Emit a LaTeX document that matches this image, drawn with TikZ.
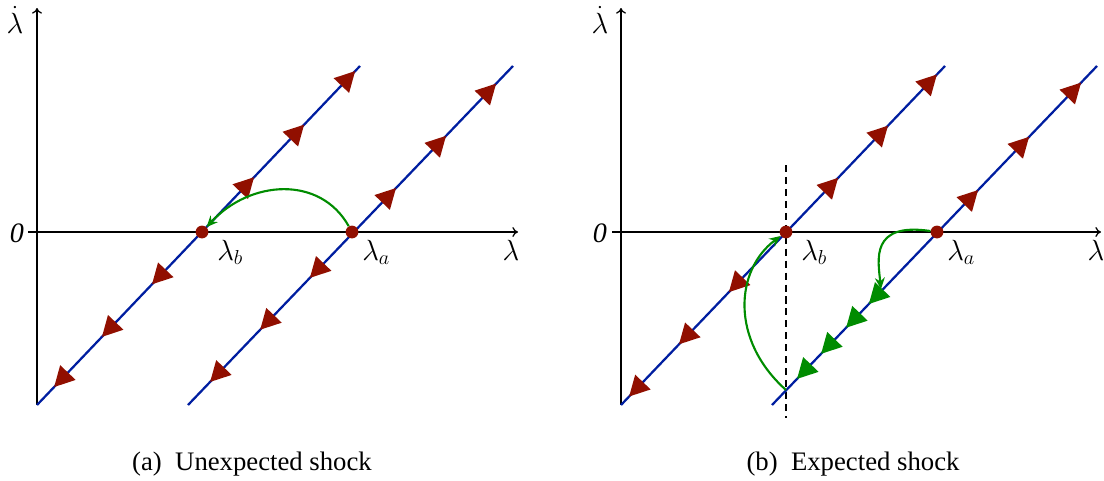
\documentclass[tikz,border=0pt]{standalone}
\usepackage{fontspec}
\setmainfont{Liberation Serif}
\usetikzlibrary{arrows.meta,decorations.markings}
\definecolor{flowblue}{RGB}{0,30,160}
\definecolor{dotred}{RGB}{145,15,0}
\definecolor{pathgreen}{RGB}{0,140,0}
\tikzset{
  axis/.style={line width=0.9pt, -{To[length=4pt,width=7pt]}},
  flow/.style={flowblue, line width=1.6pt},
  redtri/.tip={Triangle[length=0.5cm,width=0.52cm,color=dotred,fill=dotred]},
  greentri/.tip={Triangle[length=0.5cm,width=0.52cm,color=pathgreen,fill=pathgreen]},
  up/.style={postaction={decorate,decoration={markings,mark=at position #1 with {\arrow{redtri}}}}},
  down/.style={postaction={decorate,decoration={markings,mark=at position #1 with {\arrowreversed{redtri}}}}},
  gdown/.style={postaction={decorate,decoration={markings,mark=at position #1 with {\arrowreversed{greentri}}}}},
  eqdot/.style={circle, fill=dotred, inner sep=0pt, minimum size=0.32cm},
  jump/.style={pathgreen, line width=1.5pt, -{Stealth[length=8pt,width=7pt]}},
  guide/.style={black, line width=0.9pt, dash pattern=on 5pt off 3.5pt},
  lab/.style={font=\fontsize{20}{22}\selectfont, inner sep=0pt},
  captext/.style={font=\fontsize{19}{21}\selectfont, inner sep=0pt},
}
\begin{document}
\begin{tikzpicture}[x=0.025cm,y=-0.025cm]
\path[use as bounding box] (0,0) rectangle (1104,480);
% ---------- panel (a)
\coordinate (ay0) at (37,405);
\coordinate (ay1) at (37,8);
\coordinate (ax0) at (28,232);
\coordinate (ax1) at (518,232);
\draw[axis] (ay0) -- (ay1);
\draw[axis] (ax0) -- (ax1);
\node[lab, anchor=base] (ald) at (15,33) {$\dot\lambda$};
\node[lab, anchor=base] (azero) at (17,242) {\textit{0}};
\node[lab, anchor=base] (alam) at (511,260) {$\lambda$};
\coordinate (a1s) at (37,405);
\coordinate (a1e) at (360,66);
\coordinate (a2s) at (188,405);
\coordinate (a2e) at (513,66);
\draw[flow, down=0.053, down=0.201, down=0.356, up=0.672, up=0.827, up=0.985] (a1s) -- (a1e);
\draw[flow, down=0.068, down=0.222, down=0.375, up=0.64, up=0.794, up=0.948] (a2s) -- (a2e);
\node[eqdot] (alb) at (202,232) {};
\node[eqdot] (ala) at (352,232) {};
\node[lab, anchor=base west] (alblab) at (217,260) {$\lambda_b$};
\node[lab, anchor=base west] (alalab) at (362,260) {$\lambda_a$};
\draw[jump] (ala) .. controls (320,175) and (250,180) .. (alb);
\node[captext] (capa) at (252,464) {(a)\ \ Unexpected shock};
% ---------- panel (b)
\coordinate (by0) at (621,405);
\coordinate (by1) at (621,8);
\coordinate (bx0) at (612,232);
\coordinate (bx1) at (1101,232);
\draw[axis] (by0) -- (by1);
\draw[axis] (bx0) -- (bx1);
\node[lab, anchor=base] (bld) at (600,33) {$\dot\lambda$};
\node[lab, anchor=base] (bzero) at (600,242) {\textit{0}};
\node[lab, anchor=base] (blam) at (1096,260) {$\lambda$};
\coordinate (dtop) at (786,165);
\coordinate (dbot) at (786,418);
\draw[guide] (dtop) -- (dbot);
\coordinate (b1s) at (621,405);
\coordinate (b1e) at (945,66);
\coordinate (b2s) at (772,405);
\coordinate (b2e) at (1097,66);
\draw[flow, down=0.025, down=0.179, down=0.333, up=0.670, up=0.824, up=0.975] (b1s) -- (b1e);
\draw[flow, gdown=0.077, gdown=0.151, gdown=0.228, gdown=0.298, up=0.634, up=0.791, up=0.951] (b2s) -- (b2e);
\node[eqdot] (blb) at (786,232) {};
\node[eqdot] (bla) at (937,232) {};
\node[lab, anchor=base west] (bblab) at (801,260) {$\lambda_b$};
\node[lab, anchor=base west] (balab) at (947,260) {$\lambda_a$};
\coordinate (cross) at (786,390);
\coordinate (land) at (881,289);
\draw[jump] (cross) .. controls (730,340) and (735,270) .. (blb);
\draw[jump] (bla) .. controls (870,222) and (878,260) .. (land);
\node[captext] (capb) at (853,464) {(b)\ \ Expected shock};
\end{tikzpicture}
\end{document}
